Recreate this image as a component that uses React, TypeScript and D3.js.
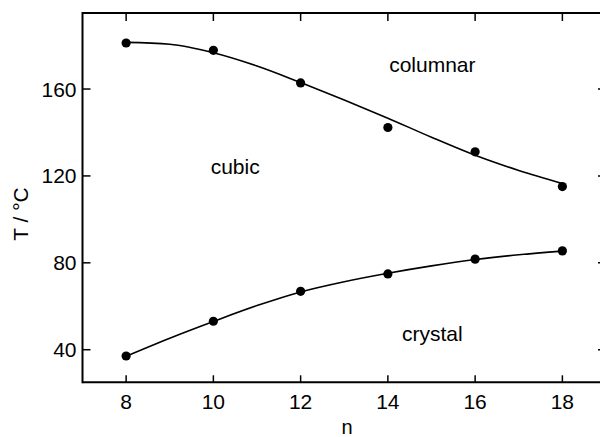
import React from "react";
import * as d3 from "d3";

const nValues = [8, 10, 12, 14, 16, 18];
const upperPoints = [181.2, 177.8, 162.8, 142.3, 131.1, 115.1];
const lowerPoints = [37.1, 53.1, 66.9, 74.9, 81.7, 85.5];

const fitN = [8, 9, 10, 11, 12, 13, 14, 15, 16, 17, 18];
const upperFit = [181.5, 180.6, 176.7, 170.6, 163, 155, 146.6, 137.8, 129.5, 122.5, 116.5];
const lowerFit = [37, 45.3, 53, 60.3, 66.6, 71.3, 75.2, 78.6, 81.5, 83.7, 85.4];

const xTicks = [8, 10, 12, 14, 16, 18];
const yTicks = [40, 80, 120, 160];

const regionLabels = [
  { text: "columnar", n: 15.02, t: 168 },
  { text: "cubic", n: 10.5, t: 121 },
  { text: "crystal", n: 15.02, t: 44 },
];

const W = 600;
const H = 437;

export default function App() {
  const x = d3.scaleLinear().domain([7, 19]).range([82.5, 606]);
  const y = d3.scaleLinear().domain([25, 195]).range([382.3, 13]);
  const line = d3
    .line<number>()
    .x((_, i) => x(fitN[i]))
    .y((d) => y(d))
    .curve(d3.curveMonotoneX);
  const font = "'Liberation Sans', Arial, sans-serif";
  const x0 = x.range()[0];
  const x1 = x.range()[1];
  const y0 = y.range()[0];
  const y1 = y.range()[1];
  return (
    <svg
      width={W}
      height={H}
      style={{ position: "absolute", left: 0, top: 0, background: "#fff" }}
      fontFamily={font}
    >
      <rect x={0} y={0} width={W} height={H} fill="#fff" />
      {/* frame */}
      <line x1={x0} x2={x1} y1={y1} y2={y1} stroke="#000" strokeWidth={2} />
      <line x1={x0} x2={x1} y1={y0} y2={y0} stroke="#000" strokeWidth={2} />
      <line x1={x0} x2={x0} y1={y1 - 1} y2={y0 + 1} stroke="#000" strokeWidth={2} />
      <line x1={x1} x2={x1} y1={y1} y2={y0} stroke="#000" strokeWidth={2} />
      {/* x ticks */}
      {xTicks.map((t) => (
        <g key={"xt" + t}>
          <line x1={x(t)} x2={x(t)} y1={y0} y2={y0 - 7} stroke="#000" strokeWidth={1.5} />
          <line x1={x(t)} x2={x(t)} y1={y1} y2={y1 + 8} stroke="#000" strokeWidth={1.5} />
          <text x={x(t)} y={409} textAnchor="middle" fontSize={21} fill="#000">
            {t}
          </text>
        </g>
      ))}
      {/* y ticks */}
      {yTicks.map((t) => (
        <g key={"yt" + t}>
          <line x1={x0} x2={x0 + 8} y1={y(t)} y2={y(t)} stroke="#000" strokeWidth={1.5} />
          <line x1={x1} x2={x1 - 8} y1={y(t)} y2={y(t)} stroke="#000" strokeWidth={1.5} />
          <text
            x={x0 - 6}
            y={y(t)}
            dy="0.36em"
            textAnchor="end"
            fontSize={21}
            fill="#000"
          >
            {t}
          </text>
        </g>
      ))}
      {/* axis titles */}
      <text x={347} y={434} textAnchor="middle" fontSize={20} fill="#000">
        n
      </text>
      <text
        transform={`translate(28,214) rotate(-90)`}
        textAnchor="middle"
        fontSize={21}
        fill="#000"
      >
        T / °C
      </text>
      {/* fit curves */}
      <path d={line(upperFit) || ""} fill="none" stroke="#000" strokeWidth={1.6} />
      <path d={line(lowerFit) || ""} fill="none" stroke="#000" strokeWidth={1.6} />
      {/* data points */}
      {nValues.map((n, i) => (
        <g key={"p" + n}>
          <circle cx={x(n)} cy={y(upperPoints[i])} r={4.6} fill="#000" />
          <circle cx={x(n)} cy={y(lowerPoints[i])} r={4.6} fill="#000" />
        </g>
      ))}
      {/* region labels */}
      {regionLabels.map((l) => (
        <text
          key={l.text}
          x={x(l.n)}
          y={y(l.t)}
          textAnchor="middle"
          fontSize={21}
          fill="#000"
        >
          {l.text}
        </text>
      ))}
    </svg>
  );
}
